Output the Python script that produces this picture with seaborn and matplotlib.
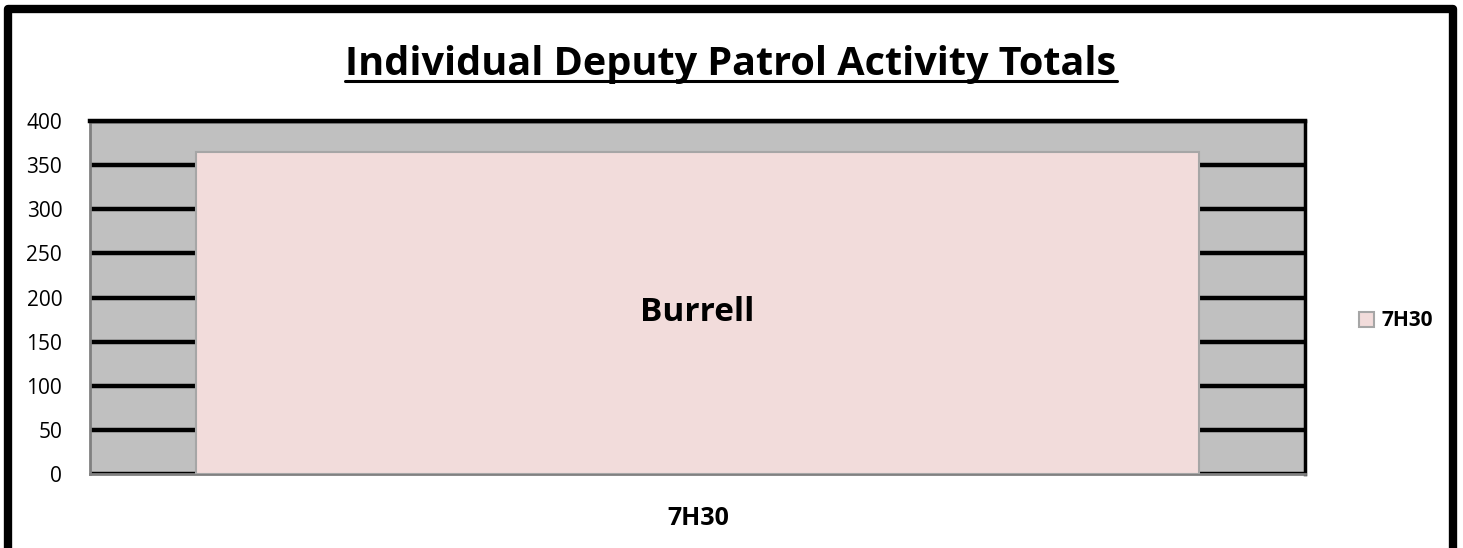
import pandas as pd
import matplotlib.pyplot as plt
import seaborn as sns
from matplotlib.patches import Rectangle

# Chart data
deputies = ['Burrell']
shift_name = '7H30'
totals = [365]
y_ticks = [0, 50, 100, 150, 200, 250, 300, 350, 400]

df = pd.DataFrame({'deputy': deputies, 'total': totals, 'shift': [shift_name] * len(deputies)})

sns.set_style('white')
plt.rcParams['font.family'] = ['Open Sans', 'DejaVu Sans']
plt.rcParams['text.color'] = 'black'
plt.rcParams['axes.labelcolor'] = 'black'
plt.rcParams['ytick.color'] = 'black'

fig = plt.figure(figsize=(14.63, 5.48), dpi=100)
ax = fig.add_axes([90 / 1463, 1 - 474 / 548, 1215 / 1463, 353 / 548])
ax.set_facecolor('#C0C0C0')

# Bar
sns.barplot(data=df, x='deputy', y='total', hue='shift', palette=['#F2DCDB'],
            saturation=1, width=0.826, edgecolor='#A6A6A6', linewidth=1.5,
            ax=ax, zorder=3)

# Axes, grid and ticks
ax.set_ylim(0, 400)
ax.set_xlim(-0.5, 0.5)
ax.set_yticks(y_ticks)
ax.set_yticklabels([str(t) for t in y_ticks], fontsize=15)
ax.tick_params(axis='y', length=0, pad=20)
ax.set_xticks([])
ax.set_axisbelow(True)
ax.yaxis.grid(True, color='black', linewidth=3.2)
ax.xaxis.grid(False)
for side in ['left', 'bottom']:
    ax.spines[side].set_color('#808080')
    ax.spines[side].set_linewidth(2)
ax.spines['top'].set_color('black')
ax.spines['top'].set_linewidth(3.2)
ax.spines['right'].set_color('black')
ax.spines['right'].set_linewidth(2.5)

# Data label in the middle of the bar
ax.bar_label(ax.containers[0], labels=deputies, label_type='center',
             fontsize=24, fontweight='bold', color='black')

ax.set_xlabel('')
ax.set_ylabel('')
fig.text(698 / 1463, 1 - 525 / 548, shift_name, ha='center', va='baseline',
         fontsize=18, fontweight='bold')

# Legend at the right
handles, labels = ax.get_legend_handles_labels()
ax.get_legend().remove()
fig.legend(handles, labels, loc='center left', bbox_to_anchor=(1340 / 1463, 1 - 321 / 548),
           frameon=False, handlelength=0.75, handleheight=0.75, handletextpad=0.35,
           prop={'weight': 'bold', 'size': 15})

# Title, underlined
fig.text(731 / 1463, 1 - 75 / 548, 'Individual Deputy Patrol Activity Totals',
         ha='center', va='baseline', fontsize=28.5, fontweight='bold')
fig.add_artist(plt.Line2D([345 / 1463, 1117 / 1463], [1 - 81 / 548, 1 - 81 / 548],
                          color='black', linewidth=2.2, transform=fig.transFigure))

# Chart border
fig.add_artist(Rectangle((8 / 1463, -0.01), 1445 / 1463, 1 - 9 / 548 + 0.01,
                         transform=fig.transFigure, fill=False,
                         edgecolor='black', linewidth=6, joinstyle='round'))

fig.savefig('out.png', dpi=100, facecolor='white')
